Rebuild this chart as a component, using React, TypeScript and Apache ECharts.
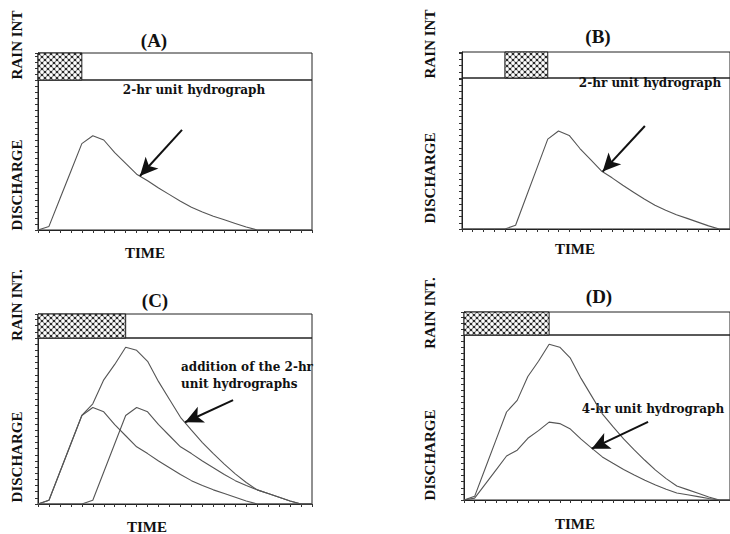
import React, { useEffect, useRef } from "react";
import * as echarts from "echarts";

// time axis in hours (ticks every 0.5 h)
const timeH = [0, 0.5, 1, 1.5, 2, 2.5, 3, 3.5, 4, 4.5, 5, 5.5, 6, 6.5, 7, 7.5, 8, 8.5, 9, 9.5, 10, 10.5, 11, 11.5, 12, 12.5];
// 2-hr unit hydrograph from rain in 0-2 h
const uh2First = [0, 0.6, 5.2, 9.8, 14.4, 15.7, 15.0, 12.9, 11.1, 9.3, 8.2, 7.0, 5.9, 4.8, 3.8, 3.0, 2.3, 1.7, 1.1, 0.5, 0, 0, 0, 0, 0, 0];
// 2-hr unit hydrograph from rain in 2-4 h
const uh2Second = [0, 0, 0, 0, 0, 0.6, 5.2, 9.8, 14.4, 15.7, 15.0, 12.9, 11.1, 9.3, 8.2, 7.0, 5.9, 4.8, 3.8, 3.0, 2.3, 1.7, 1.1, 0.5, 0, 0];
// addition of the two 2-hr unit hydrographs
const uhSum = [0, 0.6, 5.2, 9.8, 14.4, 16.3, 20.2, 22.7, 25.5, 25.0, 23.2, 19.9, 17.0, 14.1, 12.0, 10.0, 8.2, 6.5, 4.9, 3.5, 2.3, 1.7, 1.1, 0.5, 0, 0];
// 4-hr unit hydrograph
const uh4 = [0, 0.3, 2.6, 4.9, 7.2, 8.15, 10.1, 11.35, 12.75, 12.5, 11.6, 9.95, 8.5, 7.05, 6.0, 5.0, 4.1, 3.25, 2.45, 1.75, 1.15, 0.85, 0.55, 0.25, 0, 0];

// rainfall periods [start h, end h]
const rainA = [0, 2];
const rainB = [2, 4];
const rainC = [0, 4];
const rainD = [0, 4];

const panelTitles = ["(A)", "(B)", "(C)", "(D)"];
const rainLabels = ["RAIN INT", "RAIN INT", "RAIN INT.", "RAIN INT."];
const annotations = [["2-hr unit hydrograph"], ["2-hr unit hydrograph"], ["addition of the 2-hr", "unit hydrographs"], ["4-hr unit hydrograph"]];

// arrows [tail, tip] in data coordinates
const arrowA = [[6.57, 16.7], [4.65, 9.0]];
const arrowB = [[8.53, 16.5], [6.56, 9.2]];
const arrowC = [[8.9, 16.9], [6.71, 13.3]];
const arrowD = [[8.65, 12.8], [6.0, 8.4]];

const hatchSvg =
  "<svg xmlns='http://www.w3.org/2000/svg' width='6' height='6'>" +
  "<rect width='6' height='6' fill='#2b2b2b'/>" +
  "<circle cx='3' cy='3' r='1.9' fill='#fff'/>" +
  "<circle cx='0' cy='0' r='1.9' fill='#fff'/><circle cx='6' cy='0' r='1.9' fill='#fff'/>" +
  "<circle cx='0' cy='6' r='1.9' fill='#fff'/><circle cx='6' cy='6' r='1.9' fill='#fff'/></svg>";
const hatchUrl = "data:image/svg+xml;utf8," + encodeURIComponent(hatchSvg);

const layouts = [
  { rain: [38, 53, 274, 27], plot: [38, 80, 274, 150], yMax: 25, rainMax: 4.5,
    title: [154, 40], rainLbl: [17, 45], disLbl: [17, 185], timeLbl: [145, 253], ann: [194, 90], annAlign: "center" },
  { rain: [462, 52, 272.5, 26], plot: [462, 78, 272.5, 151], yMax: 24.2, rainMax: 4.2,
    title: [598, 36], rainLbl: [430, 44], disLbl: [430, 178], timeLbl: [575, 249], ann: [650, 83], annAlign: "center" },
  { rain: [38, 314, 274, 24], plot: [38, 338, 274, 166], yMax: 27, rainMax: 3.9,
    title: [155, 300], rainLbl: [17, 305], disLbl: [17, 457], timeLbl: [147, 527], ann: [181, 367], annAlign: "left" },
  { rain: [464, 312, 273, 23], plot: [464, 335, 273, 165], yMax: 27, rainMax: 3.8,
    title: [599, 296], rainLbl: [430, 313], disLbl: [430, 455], timeLbl: [575, 524], ann: [653, 409], annAlign: "center" },
];

const panelRain = [rainA, rainB, rainC, rainD];
const panelSeries = [[uh2First], [uh2Second], [uh2First, uh2Second, uhSum], [uhSum, uh4]];
const panelArrow = [arrowA, arrowB, arrowC, arrowD];
const panelArrowSeries = [0, 0, 2, 1];

export default function App() {
  const ref = useRef<HTMLDivElement>(null);
  useEffect(() => {
    if (!ref.current) return;
    const chart = echarts.init(ref.current, undefined, { renderer: "svg" });
    const grids: any[] = [];
    const xAxes: any[] = [];
    const yAxes: any[] = [];
    const series: any[] = [];
    const graphics: any[] = [];
    const tickStyle = { show: true, inside: false, length: 3, lineStyle: { color: "#333", width: 1 } };
    const lineAxis = { show: true, lineStyle: { color: "#222", width: 1 } };
    const serif = '"Liberation Serif", "Times New Roman", serif';

    layouts.forEach((L, p) => {
      const ri = p * 2;
      const pi = p * 2 + 1;
      grids.push({ left: L.rain[0], top: L.rain[1], width: L.rain[2], height: L.rain[3], show: true, borderColor: "#222", borderWidth: 1, backgroundColor: "transparent" });
      grids.push({ left: L.plot[0], top: L.plot[1], width: L.plot[2], height: L.plot[3], show: true, borderColor: "#222", borderWidth: 1, backgroundColor: "transparent" });
      xAxes.push({ gridIndex: ri, type: "value", min: 0, max: 12.5, show: false });
      yAxes.push({ gridIndex: ri, type: "value", min: 0, max: L.rainMax, interval: 1, axisLine: lineAxis, axisTick: tickStyle, axisLabel: { show: false }, splitLine: { show: false } });
      xAxes.push({ gridIndex: pi, type: "value", min: 0, max: 12.5, interval: 0.5, axisLine: lineAxis, axisTick: tickStyle, axisLabel: { show: false }, splitLine: { show: false } });
      yAxes.push({ gridIndex: pi, type: "value", min: 0, max: L.yMax, interval: 1, axisLine: lineAxis, axisTick: tickStyle, axisLabel: { show: false }, splitLine: { show: false } });

      const rMax = L.rainMax;
      series.push({
        type: "custom",
        xAxisIndex: ri,
        yAxisIndex: ri,
        data: [[panelRain[p][0], panelRain[p][1]]],
        silent: true,
        renderItem: (params: any, api: any) => {
          const a = api.coord([api.value(0), rMax]);
          const b = api.coord([api.value(1), 0]);
          return {
            type: "rect",
            shape: { x: a[0], y: a[1], width: b[0] - a[0], height: b[1] - a[1] },
            style: { fill: { image: hatchUrl, repeat: "repeat", imageWidth: 6, imageHeight: 6 }, stroke: "#222", lineWidth: 1 },
          };
        },
      });

      panelSeries[p].forEach((vals, si) => {
        const s: any = {
          type: "line",
          xAxisIndex: pi,
          yAxisIndex: pi,
          data: timeH.map((t, i) => [t, vals[i]]),
          symbol: "none",
          lineStyle: { color: "#555", width: 1.1 },
          silent: true,
          z: 3,
        };
        if (si === panelArrowSeries[p]) {
          const ar = panelArrow[p];
          s.markLine = {
            silent: true,
            animation: false,
            symbol: ["none", "arrow"],
            symbolSize: [13, 18],
            label: { show: false },
            lineStyle: { color: "#111", width: 2, type: "solid" },
            data: [[{ coord: ar[0], symbol: "none" }, { coord: ar[1], symbol: "arrow" }]],
          };
        }
        series.push(s);
      });

      graphics.push({ type: "text", x: L.title[0], y: L.title[1], style: { text: panelTitles[p], font: `bold 19px ${serif}`, fill: "#111", align: "center", verticalAlign: "middle" } });
      graphics.push({ type: "text", x: L.rainLbl[0], y: L.rainLbl[1], rotation: Math.PI / 2, style: { text: rainLabels[p], font: `bold 15px ${serif}`, fill: "#111", align: "center", verticalAlign: "middle" } });
      graphics.push({ type: "text", x: L.disLbl[0], y: L.disLbl[1], rotation: Math.PI / 2, style: { text: "DISCHARGE", font: `bold 15px ${serif}`, fill: "#111", align: "center", verticalAlign: "middle" } });
      graphics.push({ type: "text", x: L.timeLbl[0], y: L.timeLbl[1], style: { text: "TIME", font: `bold 15px ${serif}`, fill: "#111", align: "center", verticalAlign: "middle" } });
      annotations[p].forEach((line, li) => {
        graphics.push({ type: "text", x: L.ann[0], y: L.ann[1] + li * 17, style: { text: line, font: 'bold 12px "DejaVu Serif", serif', fill: "#111", align: L.annAlign, verticalAlign: "middle" } });
      });
    });

    chart.setOption({
      animation: false,
      backgroundColor: "#fff",
      grid: grids,
      xAxis: xAxes,
      yAxis: yAxes,
      series,
      graphic: graphics,
    });
    return () => chart.dispose();
  }, []);
  return <div ref={ref} style={{ position: "fixed", left: 0, top: 0, width: 730, height: 534, background: "#fff" }} />;
}
